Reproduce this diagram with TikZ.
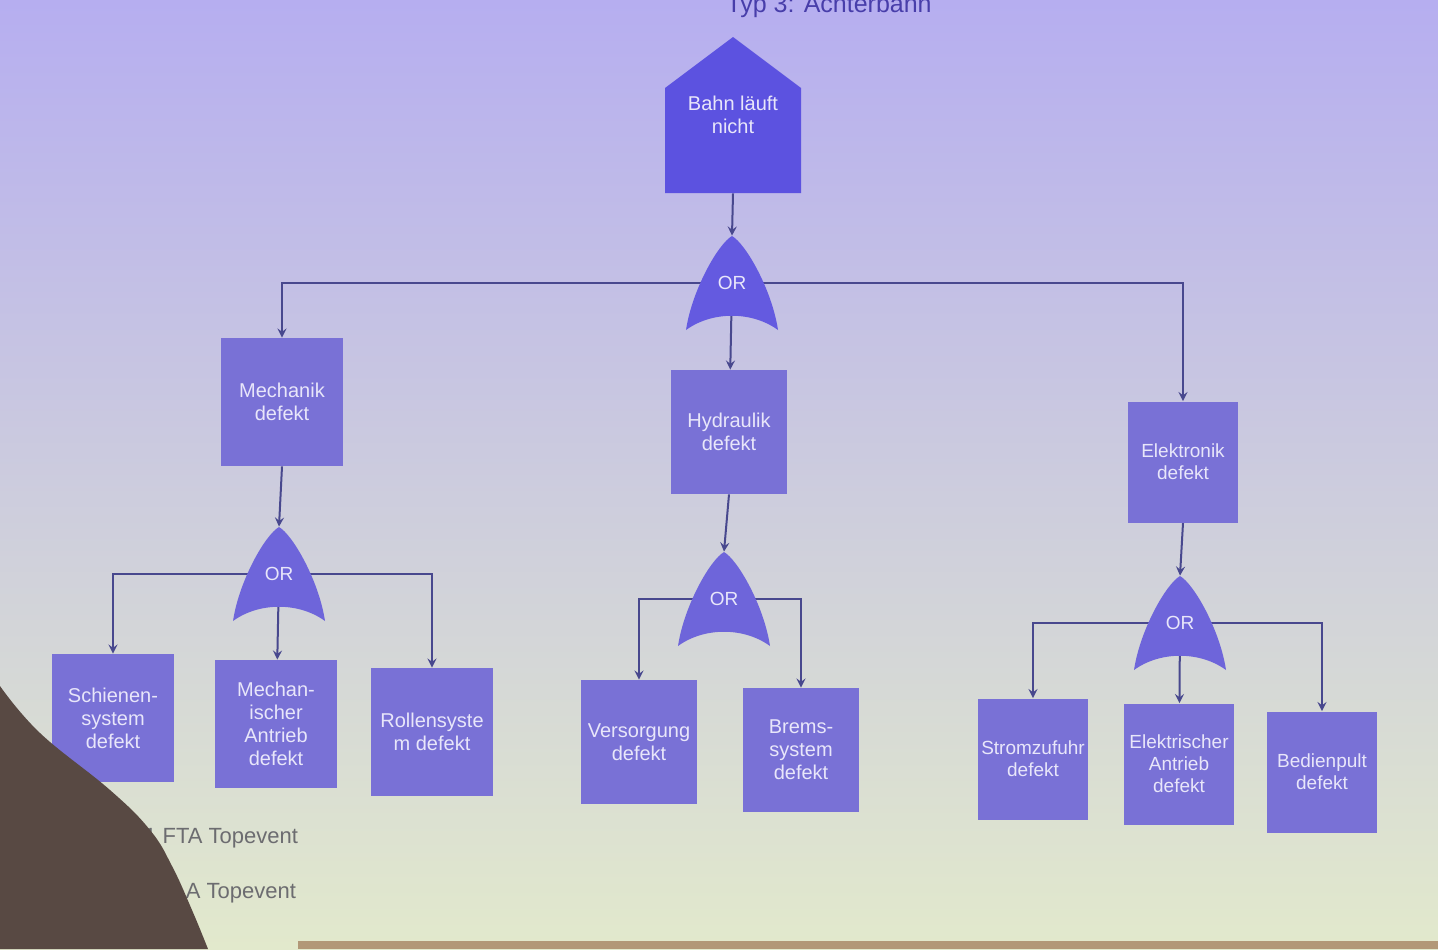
\documentclass[tikz,border=0pt]{standalone}
\usepackage{fontspec}
\setmainfont{Liberation Sans}
\usetikzlibrary{arrows,backgrounds}
\definecolor{ftabgtop}{RGB}{182,174,240}
\definecolor{ftabgmid}{RGB}{208,207,230}
\definecolor{ftabgbot}{RGB}{226,233,204}
\definecolor{ftatop}{RGB}{92,82,224}
\definecolor{ftagate}{RGB}{110,101,218}
\definecolor{ftagatetop}{RGB}{100,90,224}
\definecolor{ftabox}{RGB}{121,113,214}
\definecolor{ftatext}{RGB}{232,230,250}
\definecolor{ftaline}{RGB}{72,72,142}
\definecolor{ftatitle}{RGB}{72,62,170}
\definecolor{ftacaption}{RGB}{108,108,112}
\definecolor{ftahead}{RGB}{88,73,67}
\definecolor{ftastrip}{RGB}{178,152,120}

\begin{document}
\begin{tikzpicture}[
    x=0.5pt, y=-0.5pt,
    box/.style={fill=ftabox, minimum width=58pt, minimum height=62pt, inner sep=1pt,
                align=center, text=ftatext, font=\fontsize{10}{11.5}\selectfont},
    wide/.style={minimum width=61pt, minimum height=64pt},
    narrow/.style={minimum width=55pt, minimum height=60.5pt,
                font=\fontsize{9.5}{11}\selectfont},
    gate/.style={minimum width=46pt, minimum height=47pt, inner sep=0pt,
                text=ftatext, font=\fontsize{9.5}{11}\selectfont,
                path picture={\fill[#1] (path picture bounding box.center) ++(0,-47)
                    .. controls +(14,8) and +(-6,-40) .. ++(46,94)
                    .. controls +(-26,-19) and +(26,-19) .. ++(-92,0)
                    .. controls +(6,-40) and +(-14,8) .. ++(46,-94) -- cycle;}},
    gate/.default=ftagate,
    topevent/.style={minimum width=68pt, minimum height=78pt, inner sep=1pt,
                align=center, text=ftatext, font=\fontsize{10}{11.5}\selectfont,
                path picture={\fill[ftatop] (path picture bounding box.south west)
                    -- (path picture bounding box.south east) -- ++(0,-105)
                    -- (path picture bounding box.north) -- ++(-68,51) -- cycle;}},
    arr/.style={->, >=stealth, line width=1pt, color=ftaline},
    caption/.style={anchor=base east, text=ftacaption, font=\fontsize{11}{13}\selectfont}
]
    \clip (0,0) rectangle (1438,949);

    % Title (cut off by the photo)
    \node[anchor=base, text=ftatitle, font=\fontsize{12.5}{14}\selectfont] (title)
        at (829,12) {Typ 3: Achterbahn};

    % Top event
    \node[topevent] (bahn) at (733,115) {Bahn läuft\\nicht};
    \node[gate=ftagatetop] (g0) at (732,283) {OR};

    % Second level
    \node[box, wide] (mech) at (282,402) {Mechanik\\defekt};
    \node[box] (hyd) at (729,432) {Hydraulik\\defekt};
    \node[box, narrow] (elec) at (1183,462) {Elektronik\\defekt};

    % Gates
    \node[gate] (g1) at (279,574) {OR};
    \node[gate] (g2) at (724,599) {OR};
    \node[gate] (g3) at (1180,623) {OR};

    % Basic events
    \node[box, wide] (schiene) at (113,718) {Schienen-\\system\\defekt};
    \node[box, wide] (mantrieb) at (276,724) {Mechan-\\ischer\\Antrieb\\defekt};
    \node[box, wide] (rollen) at (432,732) {Rollensyste\\m defekt};
    \node[box] (versorg) at (639,742) {Versorgung\\defekt};
    \node[box] (brems) at (801,750) {Brems-\\system\\defekt};
    \node[box, narrow] (strom) at (1033,759) {Stromzufuhr\\defekt};
    \node[box, narrow] (eantrieb) at (1179,764) {Elektrischer\\Antrieb\\defekt};
    \node[box, narrow] (bedien) at (1322,772) {Bedienpult\\defekt};

    \begin{scope}[on background layer]
        % Projection background
        \shade[top color=ftabgtop, middle color=ftabgmid, bottom color=ftabgbot]
            (0,0) rectangle (1438,949);

        % Arrows
        \draw[arr] (bahn.south) -- (g0.north);
        \draw[arr] (g0.center) -| (mech);
        \draw[arr] (g0.center) -- (hyd);
        \draw[arr] (g0.center) -| (elec);

        \draw[arr] (mech.south) -- (g1.north);
        \draw[arr] (hyd.south) -- (g2.north);
        \draw[arr] (elec.south) -- (g3.north);

        \draw[arr] (g1.center) -| (schiene);
        \draw[arr] (g1.center) -- (mantrieb);
        \draw[arr] (g1.center) -| (rollen);

        \draw[arr] (g2.center) -| (versorg);
        \draw[arr] (g2.center) -| (brems);

        \draw[arr] (g3.center) -| (strom);
        \draw[arr] (g3.center) -- (eantrieb);
        \draw[arr] (g3.center) -| (bedien);
    \end{scope}

    % Captions
    \node[caption] (cap1) at (305,843) {1 FTA Topevent};
    \node[caption] (cap2) at (303,898) {A Topevent};

    % Head in front of the screen
    \fill[ftahead] plot[smooth, tension=0.7] coordinates
        {(0,686) (40,733) (110,790) (150,830) (172,866) (192,910) (208,949)}
        -- (0,949) -- cycle;
    \fill[ftastrip] (298,941) rectangle (1438,949);
\end{tikzpicture}
\end{document}
